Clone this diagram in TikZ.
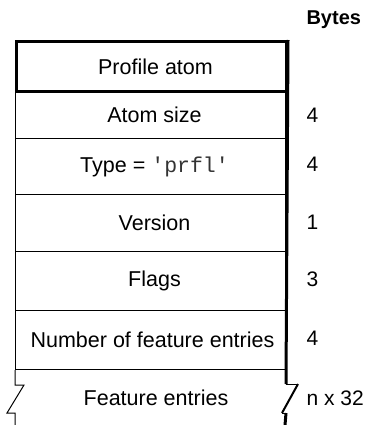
\documentclass[tikz,border=0pt]{standalone}
\usepackage{fontspec}
\setmainfont{Liberation Sans}
\newfontfamily\codefont{Liberation Mono}
\usetikzlibrary{calc}

\begin{document}
\begin{tikzpicture}[x=1pt,y=-1pt,
    field/.style={draw,line width=1pt,minimum width=270pt,minimum height=#1,
      anchor=north west,inner sep=0pt,font=\fontsize{21.5}{24}\selectfont},
    size/.style={anchor=west,font=\fontsize{21}{24}\selectfont},
    heavy/.style={line width=3pt},
    light/.style={line width=1pt}
  ]
    \useasboundingbox (0,0) rectangle (365,425);
    % stacked fields of the atom
    \node[field=48pt] (atomsize) at (15,90) {\hspace*{8pt}Atom size};
    \node[field=56pt] (type) at (15,138) {\hspace*{8pt}Type = {\codefont\color{black!80}'prfl'}};
    \node[field=57pt] (version) at (15,194) {\hspace*{8pt}Version};
    \node[field=59pt] (flags) at (15,251) {\hspace*{8pt}Flags};
    \node[field=59pt] (count) at (15,310) {\hspace*{4pt}Number of feature entries};
    \node[field=50pt,heavy] (profile) at (15,40) {\hspace*{8pt}Profile atom};
    \node[font=\fontsize{21.5}{24}\selectfont] (entries) at (156,398) {Feature entries};

    % byte counts
    \node[size,font=\bfseries\fontsize{20}{24}\selectfont] (bytes) at (303,20) {Bytes};
    \node[size] (nsize) at (303,115) {4};
    \node[size] (ntype) at (303,164) {4};
    \node[size] (nversion) at (303,222) {1};
    \node[size] (nflags) at (303,279) {3};
    \node[size] (ncount) at (303,338) {4};
    \node[size] (nentries) at (303,398) {n x 32};

    % broken bottom field
    \coordinate (brkL) at ($(count.south west)+(0,15)$);
    \coordinate (brkR) at ($(count.south east)+(0,14)$);
    \draw[light] (count.south west) -- (brkL) -- ++(9,0) -- ++(-17,28) -- ++(8,0) -- (15,425);
    \draw[heavy] (profile.north east) -- (brkR);
    \draw[light] (brkR) -- ++(12,0);
    \draw[line width=2pt] ($(brkR)+(12,0)$) -- ++(-16,29);
    \draw[light] ($(brkR)+(-4,29)$) -- ++(4,0);
    \draw[heavy] ($(brkR)+(0,29)$) -- (285,425);
  \end{tikzpicture}
\end{document}
